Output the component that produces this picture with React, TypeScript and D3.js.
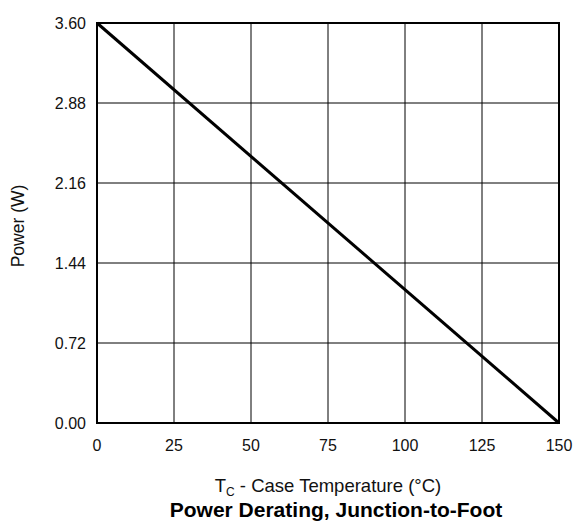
import { useEffect } from 'react';
import * as d3 from 'd3';

// ─── Data ───────────────────────────────────────────────────
const caseTemp = [0, 150];
const power = [3.6, 0];
const xTicks = [0, 25, 50, 75, 100, 125, 150];
const yTicks = [0, 0.72, 1.44, 2.16, 2.88, 3.6];

const W = 577;
const H = 523;
const MARGIN = { top: 23, right: 18, bottom: 100, left: 97 };
const FONT = '"Liberation Sans", Arial, Helvetica, sans-serif';

export default function App() {
  useEffect(() => {
    document.body.style.margin = '0';
  }, []);

  const innerW = W - MARGIN.left - MARGIN.right;
  const innerH = H - MARGIN.top - MARGIN.bottom;
  const x = d3.scaleLinear().domain([0, 150]).range([0, innerW]);
  const y = d3.scaleLinear().domain([0, 3.6]).range([innerH, 0]);

  const points = caseTemp.map((t, i) => ({ t, p: power[i] }));
  const line = d3.line<{ t: number; p: number }>()
    .x((d) => x(d.t))
    .y((d) => y(d.p));

  const cx = MARGIN.left + innerW / 2;

  return (
    <svg width={W} height={H} style={{ display: 'block', background: '#fff' }} fontFamily={FONT}>
      <g transform={`translate(${MARGIN.left},${MARGIN.top})`}>
        {/* grid */}
        {xTicks.slice(1, -1).map((t) => (
          <line key={`gx${t}`} x1={x(t)} x2={x(t)} y1={0} y2={innerH} stroke="#000" strokeWidth={1} />
        ))}
        {yTicks.slice(1, -1).map((t) => (
          <line key={`gy${t}`} x1={0} x2={innerW} y1={y(t)} y2={y(t)} stroke="#000" strokeWidth={1} />
        ))}
        {/* frame */}
        <rect x={0} y={0} width={innerW} height={innerH} fill="none" stroke="#000" strokeWidth={2} />
        {/* data line */}
        <path d={line(points) ?? ''} fill="none" stroke="#000" strokeWidth={3} />
        {/* tick labels */}
        {xTicks.map((t) => (
          <text key={`tx${t}`} x={x(t)} y={innerH + 28} textAnchor="middle" fontSize={16} fill="#111">
            {t}
          </text>
        ))}
        {yTicks.map((t) => (
          <text key={`ty${t}`} x={-11} y={y(t)} dy="0.35em" textAnchor="end" fontSize={16} fill="#111">
            {t.toFixed(2)}
          </text>
        ))}
      </g>
      {/* axis titles */}
      <text
        transform={`translate(24,${MARGIN.top + innerH / 2 + 3}) rotate(-90)`}
        textAnchor="middle"
        fontSize={17.5}
        fill="#111"
      >
        Power (W)
      </text>
      <text x={cx} y={492} textAnchor="middle" fontSize={18.5} fill="#111">
        T<tspan fontSize={12} dy={4}>C</tspan><tspan dy={-4}> - Case Temperature (°C)</tspan>
      </text>
      <text x={cx + 8} y={517} textAnchor="middle" fontSize={21} fontWeight="bold" fill="#000">
        Power Derating, Junction-to-Foot
      </text>
    </svg>
  );
}
